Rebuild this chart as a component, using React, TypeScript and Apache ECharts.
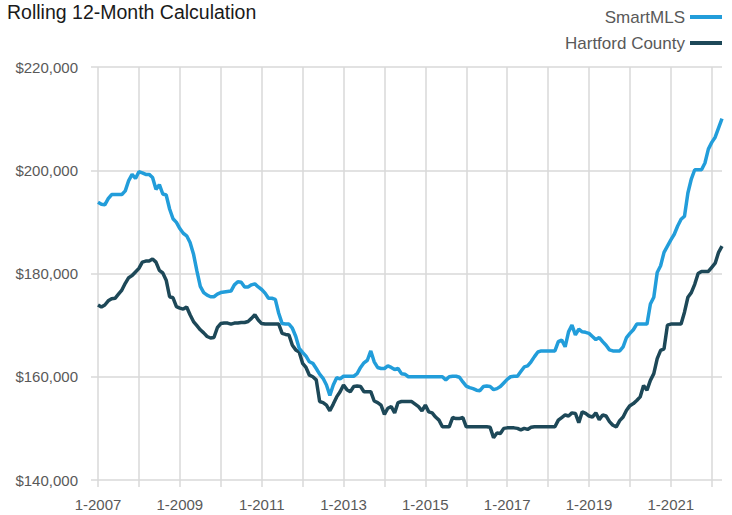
import React, { useEffect, useRef } from "react";
import * as echarts from "echarts";

// Monthly rolling 12-month median values, in thousands of dollars, Jan 2007 – Apr 2022
const startYear = 2007;
const monthCount = 184;

const smartMLS: number[] = [
  193.8, 193.4, 193.3, 194.5, 195.3, 195.3, 195.3, 195.3, 196.0, 198.0, 199.2, 198.4,
  199.7, 199.5, 199.2, 199.2, 198.6, 196.3, 197.2, 195.4, 195.2, 192.5, 190.6, 189.9,
  188.7, 187.8, 187.3, 186.0, 183.8, 180.5, 177.5, 176.3, 175.8, 175.5, 175.5, 176.0,
  176.3, 176.4, 176.5, 176.6, 177.8, 178.4, 178.3, 177.4, 177.4, 177.8, 178.0, 177.4,
  176.9, 176.2, 175.2, 175.2, 175.0, 172.3, 170.3, 170.2, 170.2, 169.4, 167.8, 165.5,
  164.7, 164.0, 162.9, 162.6, 161.6, 160.5, 159.7, 158.4, 156.4, 158.4, 159.8, 159.6,
  160.1, 160.1, 160.1, 160.1, 160.6, 161.8, 162.7, 163.2, 165.0, 162.9, 161.8, 161.6,
  161.6, 162.1, 161.8, 161.4, 161.6, 160.6, 160.5, 160.0, 160.0, 160.0, 160.0, 160.0,
  160.0, 160.0, 160.0, 160.0, 160.0, 160.0, 159.4, 160.0, 160.1, 160.1, 159.9, 159.0,
  158.2, 157.9, 157.7, 157.4, 157.3, 158.1, 158.2, 158.1, 157.5, 157.7, 158.1, 158.8,
  159.5, 160.0, 160.1, 160.1, 161.0, 161.9, 162.1, 162.9, 163.9, 164.8, 165.0, 165.0,
  165.0, 165.0, 165.0, 166.8, 167.1, 165.8, 168.7, 170.0, 168.1, 169.2, 168.7, 168.6,
  168.4, 167.8, 167.2, 167.6, 166.8, 166.1, 165.2, 165.0, 165.0, 165.0, 165.8, 167.6,
  168.4, 169.1, 170.2, 170.2, 170.2, 170.2, 174.1, 175.4, 180.2, 181.5, 184.1, 185.3,
  186.5, 187.6, 189.2, 190.5, 191.1, 195.6, 198.3, 200.1, 200.1, 200.1, 201.4, 204.1,
  205.4, 206.4, 208.2, 210.0,
];

const hartford: number[] = [
  173.9, 173.5, 173.9, 174.7, 175.1, 175.2, 176.0, 176.8, 178.1, 179.2, 179.6, 180.3,
  181.0, 182.2, 182.4, 182.4, 182.8, 182.2, 180.6, 180.1, 178.7, 175.5, 175.3, 173.6,
  173.3, 173.1, 173.5, 172.0, 170.7, 169.9, 169.1, 168.5, 167.8, 167.5, 167.6, 169.5,
  170.3, 170.4, 170.4, 170.2, 170.4, 170.4, 170.5, 170.5, 170.7, 171.3, 172.0, 171.0,
  170.3, 170.2, 170.2, 170.2, 170.2, 170.2, 168.4, 168.2, 168.1, 166.1, 165.2, 164.8,
  162.6, 161.8, 160.3, 160.0, 159.4, 155.2, 155.0, 154.5, 153.4, 154.7, 156.1, 157.1,
  158.4, 157.5, 157.1, 158.1, 158.2, 158.1, 157.1, 157.1, 157.1, 155.3, 155.0, 154.5,
  152.7, 153.9, 154.2, 153.0, 155.0, 155.2, 155.2, 155.2, 155.2, 154.7, 154.2, 153.4,
  154.5, 153.2, 153.0, 152.2, 151.6, 150.3, 150.3, 150.3, 152.1, 151.9, 151.9, 152.1,
  150.3, 150.3, 150.3, 150.3, 150.3, 150.3, 150.3, 150.2, 148.2, 149.1, 149.0, 150.0,
  150.1, 150.1, 150.1, 150.0, 149.7, 150.0, 149.8, 150.2, 150.3, 150.3, 150.3, 150.3,
  150.3, 150.3, 150.3, 151.6, 152.1, 152.6, 152.4, 153.0, 152.9, 151.1, 153.2, 152.9,
  152.4, 152.2, 153.0, 151.7, 152.6, 152.4, 151.3, 150.6, 150.3, 151.5, 152.2, 153.5,
  154.4, 154.8, 155.4, 156.1, 158.3, 157.4, 159.3, 160.6, 163.5, 165.1, 165.4, 170.0,
  170.2, 170.2, 170.2, 170.2, 172.5, 175.4, 176.3, 177.9, 180.0, 180.4, 180.4, 180.4,
  181.2, 182.0, 184.1, 185.3,
];

const categories: string[] = Array.from({ length: monthCount }, (_, i) => {
  const m = (i % 12) + 1;
  const y = startYear + Math.floor(i / 12);
  return `${m}-${y}`;
});

const seriesNames = ["SmartMLS", "Hartford County"];
const yTicks = { min: 140000, max: 220000, interval: 20000 };

const FONT = "'Liberation Sans', Arial, Helvetica, sans-serif";

export default function App() {
  const ref = useRef<HTMLDivElement>(null);

  useEffect(() => {
    if (!ref.current) return;
    const chart = echarts.init(ref.current, undefined, { renderer: "svg" });
    const gridColor = "#d9d9d9";
    chart.setOption({
      animation: false,
      textStyle: { fontFamily: FONT },
      title: {
        text: "Rolling 12-Month Calculation",
        left: 7,
        top: 2,
        padding: 0,
        textStyle: { fontFamily: FONT, fontSize: 19.5, fontWeight: "normal", color: "#1a1a1a" },
      },
      legend: {
        orient: "vertical",
        right: 10,
        top: 7,
        align: "right",
        icon: "rect",
        itemWidth: 32,
        itemHeight: 4,
        itemGap: 6,
        padding: 0,
        textStyle: { fontFamily: FONT, fontSize: 17, color: "#595959", lineHeight: 20 },
        data: seriesNames,
      },
      grid: { left: 98, right: 10, top: 67, bottom: 35, containLabel: false },
      xAxis: {
        type: "category",
        data: categories,
        boundaryGap: false,
        axisLine: { show: false },
        axisTick: {
          show: true,
          interval: 11,
          length: 7,
          lineStyle: { color: gridColor, width: 1.5 },
        },
        axisLabel: {
          interval: 23,
          margin: 17,
          fontSize: 15,
          color: "#595959",
          fontFamily: FONT,
        },
        splitLine: {
          show: true,
          interval: 11,
          lineStyle: { color: gridColor, width: 1.5 },
        },
      },
      yAxis: {
        type: "value",
        min: yTicks.min,
        max: yTicks.max,
        interval: yTicks.interval,
        axisLine: { show: false },
        axisTick: { show: true, length: 7, lineStyle: { color: gridColor, width: 1.5 } },
        axisLabel: {
          margin: 20,
          fontSize: 15,
          color: "#595959",
          fontFamily: FONT,
          formatter: (v: number) => "$" + v.toLocaleString("en-US"),
        },
        splitLine: { show: true, lineStyle: { color: gridColor, width: 1.5 } },
      },
      series: [
        {
          name: seriesNames[0],
          type: "line",
          data: smartMLS.map((v) => v * 1000),
          showSymbol: false,
          symbol: "none",
          lineStyle: { width: 3.5, color: "#229dda" },
          itemStyle: { color: "#229dda" },
          z: 3,
        },
        {
          name: seriesNames[1],
          type: "line",
          data: hartford.map((v) => v * 1000),
          showSymbol: false,
          symbol: "none",
          lineStyle: { width: 3.5, color: "#1d4858" },
          itemStyle: { color: "#1d4858" },
          z: 2,
        },
      ],
    });
    return () => chart.dispose();
  }, []);

  return (
    <div
      ref={ref}
      style={{ position: "fixed", left: 0, top: 0, width: 732, height: 515, background: "#fff" }}
    />
  );
}
